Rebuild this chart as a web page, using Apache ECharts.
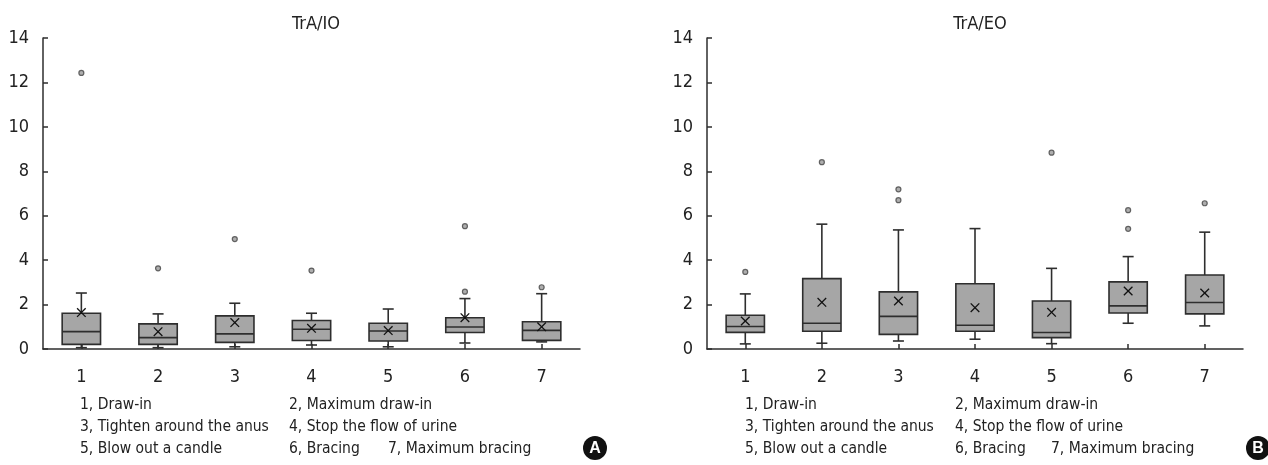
<!DOCTYPE html>
<html>
<head>
<meta charset="utf-8">
<script src="https://cdn.jsdelivr.net/npm/echarts@6/dist/echarts.min.js"></script>
<style>
html,body{margin:0;padding:0;background:#fff;}
#c{width:1268px;height:465px;}
</style>
</head>
<body>
<div id="c"></div>
<script>
const categories = ['1','2','3','4','5','6','7'];
const yTicks = [0,2,4,6,8,10,12,14];

// TrA/IO
const ioMin    = [0.06, 0.06, 0.10, 0.18, 0.10, 0.27, 0.32];
const ioQ1     = [0.21, 0.21, 0.30, 0.38, 0.36, 0.74, 0.39];
const ioMedian = [0.78, 0.51, 0.68, 0.89, 0.81, 0.99, 0.84];
const ioQ3     = [1.61, 1.13, 1.49, 1.28, 1.16, 1.41, 1.23];
const ioMax    = [2.52, 1.58, 2.06, 1.61, 1.80, 2.27, 2.49];
const ioMean   = [1.64, 0.78, 1.19, 0.93, 0.83, 1.41, 1.00];
const ioOutliers = [[0, 12.43], [1, 3.63], [2, 4.95], [3, 3.53], [5, 5.53], [5, 2.58], [6, 2.78]];

// TrA/EO
const eoMin    = [0.23, 0.26, 0.36, 0.44, 0.24, 1.16, 1.04];
const eoQ1     = [0.75, 0.80, 0.66, 0.80, 0.51, 1.62, 1.58];
const eoMedian = [1.01, 1.16, 1.47, 1.07, 0.74, 1.94, 2.09];
const eoQ3     = [1.52, 3.17, 2.57, 2.94, 2.16, 3.02, 3.33];
const eoMax    = [2.48, 5.62, 5.36, 5.42, 3.63, 4.16, 5.26];
const eoMean   = [1.26, 2.10, 2.16, 1.86, 1.65, 2.61, 2.52];
const eoOutliers = [[0, 3.47], [1, 8.41], [2, 7.19], [2, 6.70], [4, 8.84], [5, 6.25], [5, 5.41], [6, 6.56]];

const titles = ['TrA/IO', 'TrA/EO'];
const legendLines = [
  ['1, Draw-in', '2, Maximum draw-in'],
  ['3, Tighten around the anus', '4, Stop the flow of urine'],
  ['5, Blow out a candle', '6, Bracing', '7, Maximum bracing']
];
const panelLetters = ['A', 'B'];

const FONT = '"DejaVu Sans Condensed", "Liberation Sans", sans-serif';
const DARK = '#2e2e2e';
const BOXFILL = '#a6a6a6';

function buildBoxData(mn, q1, md, q3, mx, mean) {
  return categories.map((c, i) => [i, mn[i], q1[i], md[i], q3[i], mx[i], mean[i]]);
}

function renderBox(params, api) {
  const i = api.value(0);
  const pMin = api.coord([i, api.value(1)]);
  const pQ1 = api.coord([i, api.value(2)]);
  const pMed = api.coord([i, api.value(3)]);
  const pQ3 = api.coord([i, api.value(4)]);
  const pMax = api.coord([i, api.value(5)]);
  const pMean = api.coord([i, api.value(6)]);
  const bw = api.size([1, 0])[0] * 0.5;
  const cx = pMed[0];
  const cap = 5.5;
  const xs = 4.3;
  const ls = {stroke: DARK, lineWidth: 1.6};
  return {
    type: 'group',
    children: [
      {type: 'line', shape: {x1: cx, y1: pQ3[1], x2: cx, y2: pMax[1]}, style: ls},
      {type: 'line', shape: {x1: cx - cap, y1: pMax[1], x2: cx + cap, y2: pMax[1]}, style: ls},
      {type: 'line', shape: {x1: cx, y1: pQ1[1], x2: cx, y2: pMin[1]}, style: ls},
      {type: 'line', shape: {x1: cx - cap, y1: pMin[1], x2: cx + cap, y2: pMin[1]}, style: ls},
      {type: 'rect', shape: {x: cx - bw / 2, y: pQ3[1], width: bw, height: pQ1[1] - pQ3[1]},
        style: {fill: BOXFILL, stroke: DARK, lineWidth: 1.6}},
      {type: 'line', shape: {x1: cx - bw / 2, y1: pMed[1], x2: cx + bw / 2, y2: pMed[1]}, style: ls},
      {type: 'line', shape: {x1: cx - xs, y1: pMean[1] - xs, x2: cx + xs, y2: pMean[1] + xs}, style: {stroke: '#111', lineWidth: 1.3}},
      {type: 'line', shape: {x1: cx - xs, y1: pMean[1] + xs, x2: cx + xs, y2: pMean[1] - xs}, style: {stroke: '#111', lineWidth: 1.3}}
    ]
  };
}

const grids = [
  {left: 43, right: 688, top: 38, bottom: 116},
  {left: 707, right: 25, top: 38, bottom: 116}
];

function xAxis(gi) {
  return {
    type: 'category', gridIndex: gi, data: categories, boundaryGap: true,
    axisLine: {lineStyle: {color: DARK, width: 1.5}},
    axisTick: {show: true, inside: true, length: 5, alignWithLabel: true, lineStyle: {color: DARK, width: 1.5}},
    axisLabel: {color: '#222', fontFamily: FONT, fontSize: 18, margin: 19},
    splitLine: {show: false}
  };
}
function yAxis(gi) {
  return {
    type: 'value', gridIndex: gi, min: 0, max: 14, interval: 2,
    axisLine: {show: true, lineStyle: {color: DARK, width: 1.5}},
    axisTick: {show: true, inside: true, length: 5, lineStyle: {color: DARK, width: 1.5}},
    axisLabel: {color: '#222', fontFamily: FONT, fontSize: 18, margin: 14,
      formatter: v => yTicks.includes(v) ? String(v) : ''},
    splitLine: {show: false}
  };
}

const graphic = [];
const legendX = [[80, 289, 388], [745, 955, 1051]];
const legendY = [406, 428, 450];
for (let p = 0; p < 2; p++) {
  legendLines.forEach((line, li) => {
    line.forEach((t, ti) => {
      graphic.push({type: 'text', left: legendX[p][ti], top: legendY[li] - 9,
        style: {text: t, fill: '#222', font: '15.5px ' + FONT}});
    });
  });
}
const letterPos = [[595, 448], [1258, 448]];
panelLetters.forEach((L, p) => {
  graphic.push({type: 'circle', shape: {cx: letterPos[p][0], cy: letterPos[p][1], r: 12}, style: {fill: '#111'}});
  graphic.push({type: 'text', x: letterPos[p][0], y: letterPos[p][1] + 1,
    style: {text: L, fill: '#fff', font: 'bold 16px "Liberation Sans", Arial, sans-serif', align: 'center', verticalAlign: 'middle'}});
});

const option = {
  backgroundColor: '#fff',
  animation: false,
  title: [
    {text: titles[0], left: 311, top: 10, textAlign: 'center', textStyle: {fontFamily: FONT, fontSize: 18, fontWeight: 'normal', color: '#222'}},
    {text: titles[1], left: 975, top: 10, textAlign: 'center', textStyle: {fontFamily: FONT, fontSize: 18, fontWeight: 'normal', color: '#222'}}
  ],
  grid: grids,
  xAxis: [xAxis(0), xAxis(1)],
  yAxis: [yAxis(0), yAxis(1)],
  series: [
    {type: 'custom', xAxisIndex: 0, yAxisIndex: 0, renderItem: renderBox,
      data: buildBoxData(ioMin, ioQ1, ioMedian, ioQ3, ioMax, ioMean), encode: {x: 0, y: [1,2,3,4,5,6]}},
    {type: 'scatter', xAxisIndex: 0, yAxisIndex: 0, data: ioOutliers, symbol: 'circle', symbolSize: 5,
      itemStyle: {color: '#9a9a9a', borderColor: '#444', borderWidth: 1.2}},
    {type: 'custom', xAxisIndex: 1, yAxisIndex: 1, renderItem: renderBox,
      data: buildBoxData(eoMin, eoQ1, eoMedian, eoQ3, eoMax, eoMean), encode: {x: 0, y: [1,2,3,4,5,6]}},
    {type: 'scatter', xAxisIndex: 1, yAxisIndex: 1, data: eoOutliers, symbol: 'circle', symbolSize: 5,
      itemStyle: {color: '#9a9a9a', borderColor: '#444', borderWidth: 1.2}}
  ],
  graphic: graphic
};

const chart = echarts.init(document.getElementById('c'), null, {renderer: 'canvas'});
chart.setOption(option);
</script>
</body>
</html>
